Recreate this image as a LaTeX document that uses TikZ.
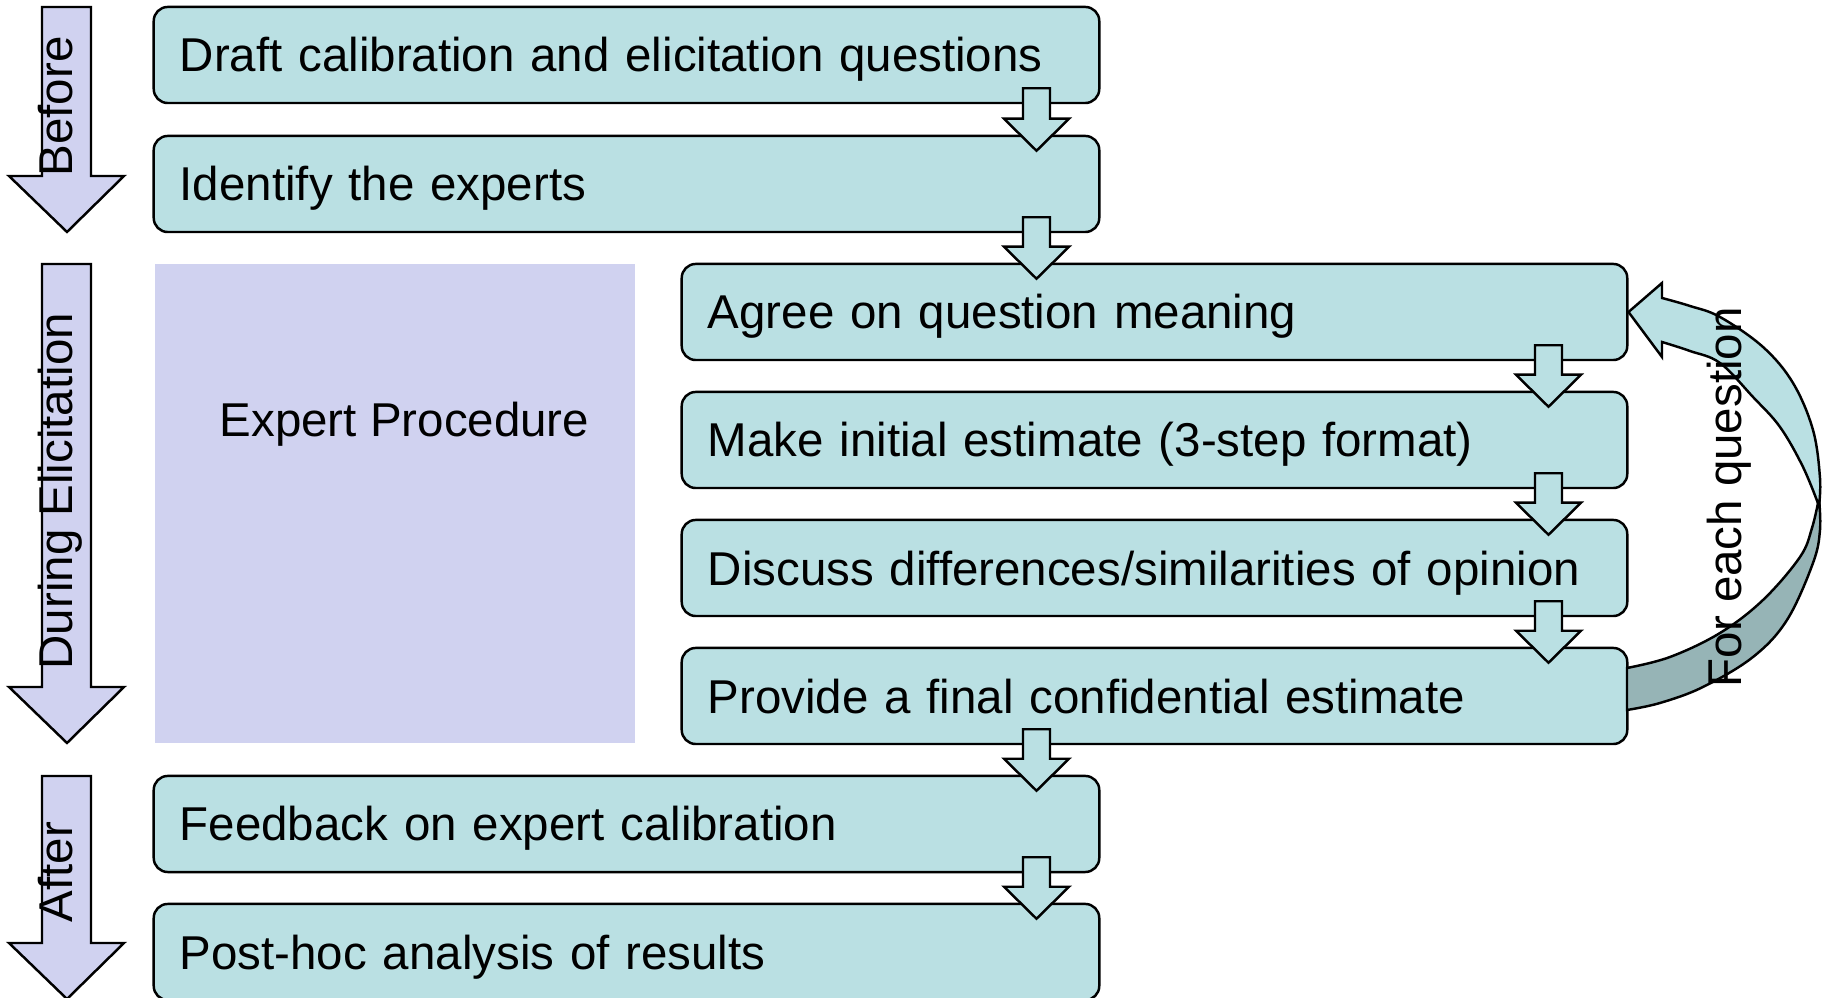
\documentclass[tikz,border=0pt]{standalone}
\usepackage{fontspec}
\setmainfont{Liberation Sans}
\usetikzlibrary{calc}
\definecolor{boxteal}{RGB}{186,224,227}
\definecolor{darkteal}{RGB}{150,180,182}
\definecolor{lav}{RGB}{208,210,240}
\tikzset{
  procbox/.style={draw=black, line width=0.7pt, fill=boxteal, rounded corners=0.14cm,
    minimum width=9.45cm, minimum height=0.96cm, text width=8.93cm, inner xsep=0.26cm,
    inner ysep=0pt, align=left, text height=0.44cm, text depth=0.10cm,
    font=\fontsize{13.5}{16}\selectfont},
  flowarr/.style={draw=black, line width=0.7pt, fill=boxteal, line join=miter},
  phasearr/.style={draw=black, line width=0.7pt, fill=lav, line join=miter},
  phaselbl/.style={rotate=90, anchor=base west, inner sep=0pt, font=\fontsize{13.5}{16}\selectfont},
  looplight/.style={draw=black, line width=0.7pt, fill=boxteal, line join=miter},
  loopdark/.style={draw=black, line width=0.7pt, fill=darkteal, line join=miter},
}
\newcommand\blockarr[4]{%
  \coordinate (ba-x) at ($(#3.east)+(#4,0)$);
  \coordinate (ba-t) at ($(ba-x |- #1.south)+(0,-16)$);
  \coordinate (ba-p) at ($(ba-x |- #2.north)+(0,16)$);
  \draw[flowarr] ($(ba-t)+(-13.5,0)$) -- ($(ba-t)+(13.5,0)$) -- ($(ba-p)+(13.5,-32)$)
    -- ($(ba-p)+(32.5,-32)$) -- (ba-p) -- ($(ba-p)+(-32.5,-32)$) -- ($(ba-p)+(-13.5,-32)$) -- cycle;
}
\begin{document}
\begin{tikzpicture}[x=0.01cm, y=-0.01cm]
\clip (0,0) rectangle (1826,998);

% phase arrows
\draw[phasearr] (42,7) -- (91,7) -- (91,176) -- (124,176) -- (67,232) -- (9,176) -- (42,176) -- cycle;
\draw[phasearr] (42,264) -- (91,264) -- (91,687) -- (124,687) -- (67,743) -- (9,687) -- (42,687) -- cycle;
\draw[phasearr] (42,776) -- (91,776) -- (91,943) -- (124,943) -- (67,999) -- (9,943) -- (42,943) -- cycle;
\node[phaselbl] (lbefore) at (72,177) {Before};
\node[phaselbl] (lduring) at (72,670) {During Elicitation};
\node[phaselbl] (lafter) at (72,923) {After};

% expert procedure panel
\fill[lav] (155,264) rectangle (635,743);
\node[anchor=base, inner sep=0pt, font=\fontsize{13.5}{16}\selectfont] (ep) at (404.5,437) {Expert Procedure};

% process boxes
\node[procbox] (b1) at (626.5,55) {Draft calibration and elicitation questions};
\node[procbox] (b2) at (626.5,184) {Identify the experts};
\node[procbox] (b3) at (1154.5,312) {Agree on question meaning};
\node[procbox] (b4) at (1154.5,440) {Make initial estimate (3-step format)};
\node[procbox] (b5) at (1154.5,568) {Discuss differences/similarities of opinion};
\node[procbox] (b6) at (1154.5,696) {Provide a final confidential estimate};
\node[procbox] (b7) at (626.5,824) {Feedback on expert calibration};
\node[procbox] (b8) at (626.5,952) {Post-hoc analysis of results};

% block arrows between boxes
\blockarr{b1}{b2}{b1}{-64}
\blockarr{b2}{b3}{b2}{-64}
\blockarr{b3}{b4}{b3}{-80}
\blockarr{b4}{b5}{b3}{-80}
\blockarr{b5}{b6}{b3}{-80}
\blockarr{b6}{b7}{b7}{-64}
\blockarr{b7}{b8}{b7}{-64}

% curved loop arrow (For each question): from b6 back to b3
\draw[loopdark] (1819,498)
  -- plot[smooth, tension=0.6] coordinates {(1819,498) (1820,530) (1813,563) (1787,620) (1753,657) (1703,687) (1660,703) (1627,710)}
  -- (1627,668)
  -- plot[smooth, tension=0.6] coordinates {(1627,668) (1670,657) (1720,633) (1763,600) (1800,557) (1812,528) (1819,498)}
  -- cycle;
\draw[looplight] (b3.east) -- (1662,283) -- (1662,298)
  -- plot[smooth, tension=0.6] coordinates {(1662,298) (1690,306) (1720,317) (1763,347) (1793,383) (1813,430) (1820,478) (1819,506)}
  -- plot[smooth, tension=0.6] coordinates {(1819,506) (1803,467) (1780,427) (1753,397) (1720,363) (1690,351) (1662,342)}
  -- (1662,357) -- cycle;
\node[phaselbl] (leach) at (1741,688) {For each question};
\end{tikzpicture}
\end{document}
